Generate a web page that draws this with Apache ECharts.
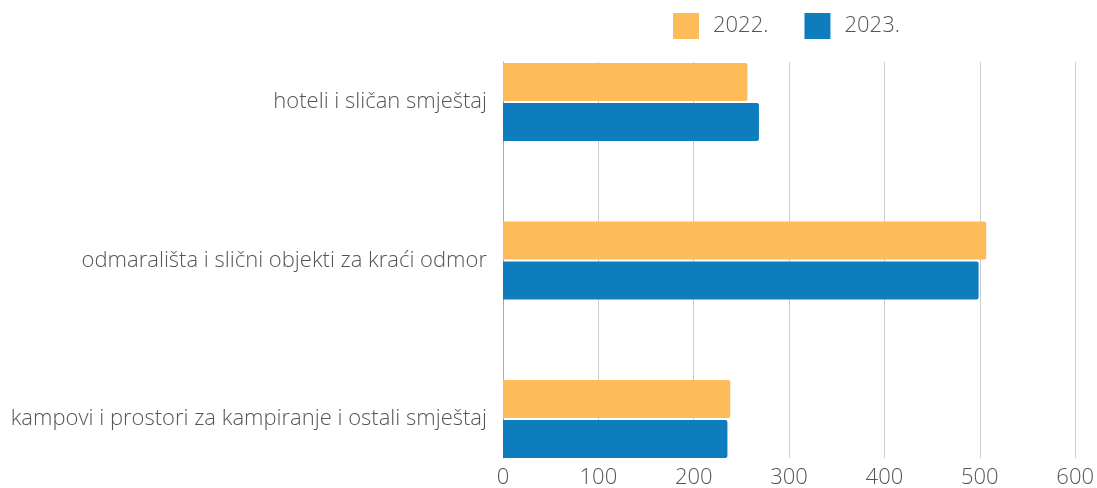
<!DOCTYPE html>
<html><head><meta charset="utf-8">
<script src="https://cdn.jsdelivr.net/npm/echarts@6/dist/echarts.min.js"></script>
<style>html,body{margin:0;padding:0;background:#fff;overflow:hidden;width:1097px;height:488px}#c{width:1097px;height:510px}</style>
</head><body><div id="c"></div>
<script>
var categories = ['hoteli i sličan smještaj', 'odmarališta i slični objekti za kraći odmor', 'kampovi i prostori za kampiranje i ostali smještaj'];
var seriesNames = ['2022.', '2023.'];
var values2022 = [256, 506, 238];
var values2023 = [268, 498, 235];
var xTicks = [0, 100, 200, 300, 400, 500, 600];

var FONT = 'Open Sans';
var TXT = '#555555';
var chart = echarts.init(document.getElementById('c'));
chart.setOption({
  animation: false,
  textStyle: {fontFamily: FONT},
  legend: {
    top: 13, left: 673, padding: 0,
    itemWidth: 26, itemHeight: 26, itemGap: 36,
    icon: 'rect',
    textStyle: {fontSize: 22, fontWeight: 300, color: TXT, fontFamily: FONT, padding: [0, 0, 0, 9]},
    data: seriesNames
  },
  grid: [
    {left: 503, right: 21, top: 62, bottom: 52, containLabel: false},
    {left: 503, right: 21, top: 22.75, height: 475.5, containLabel: false}
  ],
  xAxis: [
    {
      type: 'value', gridIndex: 0, min: xTicks[0], max: xTicks[xTicks.length - 1], interval: 100,
      axisLine: {show: false}, axisTick: {show: false},
      splitLine: {lineStyle: {color: '#cccccc', width: 1}},
      axisLabel: {fontSize: 22, fontWeight: 300, color: TXT, margin: 9, fontFamily: FONT}
    },
    {
      type: 'value', gridIndex: 1, min: xTicks[0], max: xTicks[xTicks.length - 1], interval: 100,
      show: false
    }
  ],
  yAxis: [
    {
      type: 'value', gridIndex: 0, min: 0, max: 1,
      axisLine: {show: true, lineStyle: {color: '#aaaaaa', width: 1}},
      axisTick: {show: false}, axisLabel: {show: false}, splitLine: {show: false}
    },
    {
      type: 'category', gridIndex: 1, data: categories, inverse: true,
      axisLine: {show: false}, axisTick: {show: false},
      axisLabel: {fontSize: 22, fontWeight: 300, color: TXT, margin: 16, fontFamily: FONT}
    }
  ],
  series: [
    {name: seriesNames[0], type: 'bar', xAxisIndex: 1, yAxisIndex: 1, data: values2022, barGap: '5%', barCategoryGap: '50.8%',
     itemStyle: {color: '#FEBB59', borderRadius: [0, 2, 2, 0]}},
    {name: seriesNames[1], type: 'bar', xAxisIndex: 1, yAxisIndex: 1, data: values2023, barGap: '5%', barCategoryGap: '50.8%',
     itemStyle: {color: '#0E7DBE', borderRadius: [0, 2, 2, 0]}}
  ]
});
</script></body></html>
